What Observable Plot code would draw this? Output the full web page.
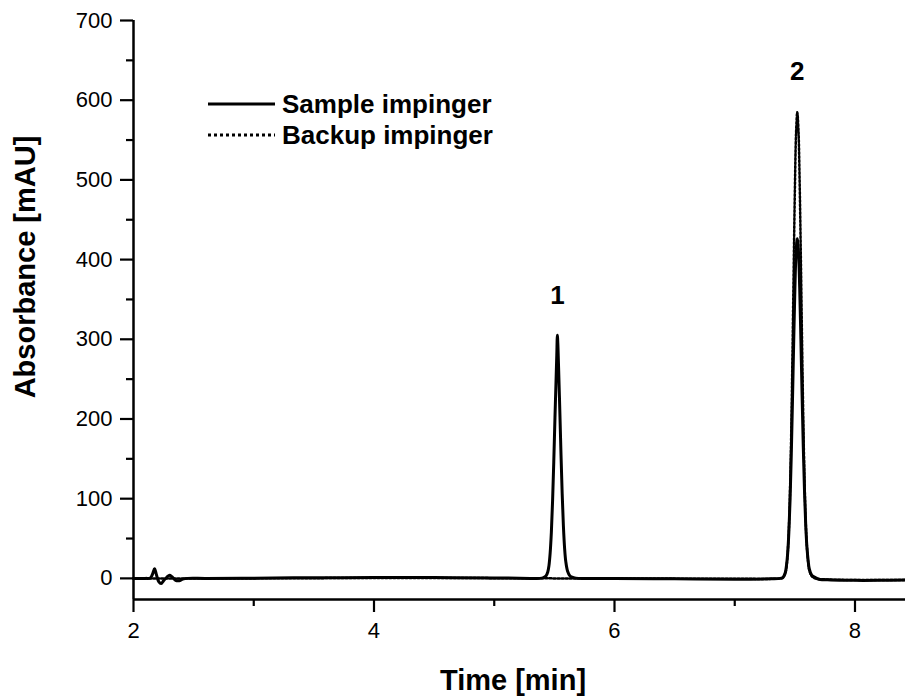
<!DOCTYPE html>
<html><head><meta charset="utf-8">
<script src="https://cdn.jsdelivr.net/npm/d3@7"></script>
<script src="https://cdn.jsdelivr.net/npm/@observablehq/plot@0.6"></script>
<style>
body{margin:0;background:#fff;}
#wrap{position:relative;width:905px;height:697px;font-family:"Liberation Sans",Arial,sans-serif;color:#000;overflow:hidden;}
.title{position:absolute;font-weight:bold;font-size:29px;white-space:nowrap;line-height:1;}
#legend{position:absolute;left:0;top:0;}
</style></head><body><div id="wrap"></div>
<script>
// ---- data ----
const seriesNames = ["Sample impinger", "Backup impinger"];

const sampleTime = [2.00,2.10,2.14,2.16,2.175,2.19,2.21,2.23,2.25,2.28,2.30,2.32,2.35,2.38,2.41,2.45,2.60,3.00,3.50,4.00,4.50,5.00,5.30,5.38,
  5.41,5.43,5.445,5.455,5.465,5.475,5.485,5.495,5.505,5.515,5.52,5.525,5.53,5.535,5.545,5.555,5.565,5.575,5.585,5.595,5.61,5.63,5.66,5.70,
  6.00,6.50,7.00,7.30,7.38,
  7.40,7.42,7.43,7.44,7.45,7.46,7.47,7.48,7.49,7.50,7.51,7.52,7.53,7.54,7.55,7.56,7.57,7.58,7.59,7.60,7.61,7.62,7.64,7.67,7.70,
  7.80,8.00,8.20,8.42];
const sampleAbs = [0,0,0.5,6,12,5,-4,-6.5,-3,2,4,2,-2.5,-3,-1,0,0,0.3,0.8,1,1,0.6,0,0,
  1,3,8,16,32,58,97,146,202,254,280,305,290,265,212,156,106,66,38,21,9,3,1,0,
  0,-0.5,-1,-0.5,0,
  1,7,16,31,58,98,154,222,295,362,409,426,410,365,300,230,165,110,68,40,23,12,4,1,-1,
  -2,-2.5,-2.5,-2];

const backupTime = [2.00,2.45,3.00,4.00,5.00,5.50,6.00,7.00,7.38,
  7.40,7.42,7.43,7.44,7.45,7.46,7.47,7.48,7.49,7.50,7.51,7.52,7.53,7.54,7.55,7.56,7.57,7.58,7.59,7.60,7.61,7.62,7.64,7.67,
  7.80,8.00,8.42];
const backupAbs = [0,0,0,0.5,0.3,0,0,-0.5,0,
  1,6,14,31,61,112,185,281,387,487,559,585,562,495,400,295,200,125,72,40,21,10,3,0,
  -1.5,-2,-2];

const xTicks = [2, 4, 6, 8];
const xMinorTicks = [3, 5, 7];
const yTicks = [0, 100, 200, 300, 400, 500, 600, 700];
const yMinorTicks = [50, 150, 250, 350, 450, 550, 650];

const peakLabels = ["1", "2"];
const peakTime = [5.525, 7.52];
const peakTop = [305, 585];

const xLabel = "Time [min]";
const yLabel = "Absorbance [mAU]";

// ---- tables built from the arrays ----
const sample = sampleTime.map((t, i) => ({t, a: sampleAbs[i]}));
const backup = backupTime.map((t, i) => ({t, a: backupAbs[i]}));
const peaks = peakLabels.map((l, i) => ({l, t: peakTime[i], a: peakTop[i]}));

const plot = Plot.plot({
  width: 905, height: 697,
  marginLeft: 133, marginRight: 0, marginTop: 20, marginBottom: 98,
  style: {fontFamily: '"Liberation Sans", Arial, sans-serif', fontSize: "22px", color: "#000", background: "#fff", overflow: "visible"},
  x: {domain: [2, 8.42]},
  y: {domain: [-26.5, 700]},
  marks: [
    Plot.axisX({ticks: xTicks, tickFormat: d => String(d), tickSize: 13, tickPadding: 10, strokeWidth: 2.2, label: null, fontSize: 22}),
    Plot.axisX({ticks: xMinorTicks, tickSize: 7, text: null, strokeWidth: 2.2, label: null}),
    Plot.axisY({ticks: yTicks, tickFormat: d => String(d), tickSize: 13, tickPadding: 8, strokeWidth: 2.2, label: null, fontSize: 22}),
    Plot.axisY({ticks: yMinorTicks, tickSize: 7, text: null, strokeWidth: 2.2, label: null}),
    Plot.ruleX([2], {y1: -26.5, y2: 700, strokeWidth: 2.5}),
    Plot.ruleY([-26.5], {x1: 2, x2: 8.42, strokeWidth: 2.5}),
    Plot.line(backup, {x: "t", y: "a", stroke: "#000", strokeWidth: 2.5, strokeDasharray: "2,2", curve: "catmull-rom"}),
    Plot.line(sample, {x: "t", y: "a", stroke: "#000", strokeWidth: 3, curve: "catmull-rom"}),
    Plot.text(peaks, {x: "t", y: "a", text: "l", dy: -40, fontSize: 26, fontWeight: "bold", fill: "#000"})
  ]
});

const wrap = document.getElementById("wrap");
wrap.appendChild(plot);

// axis titles
const xt = document.createElement("div");
xt.className = "title"; xt.textContent = xLabel;
xt.style.left = "513px"; xt.style.top = "680px"; xt.style.transform = "translate(-50%,-50%)";
wrap.appendChild(xt);
const yt = document.createElement("div");
yt.className = "title"; yt.textContent = yLabel;
yt.style.left = "25px"; yt.style.top = "267px"; yt.style.transform = "translate(-50%,-50%) rotate(-90deg)";
wrap.appendChild(yt);

// legend
const ns = "http://www.w3.org/2000/svg";
const lg = document.createElementNS(ns, "svg");
lg.setAttribute("id", "legend"); lg.setAttribute("width", 905); lg.setAttribute("height", 200);
const dashes = [null, "3,3"];
const widths = [3, 3];
seriesNames.forEach((name, i) => {
  const y = 104 + i * 31;
  const ln = document.createElementNS(ns, "line");
  ln.setAttribute("x1", 208); ln.setAttribute("x2", 275); ln.setAttribute("y1", y); ln.setAttribute("y2", y);
  ln.setAttribute("stroke", "#000"); ln.setAttribute("stroke-width", widths[i]);
  if (dashes[i]) ln.setAttribute("stroke-dasharray", dashes[i]);
  lg.appendChild(ln);
  const tx = document.createElementNS(ns, "text");
  tx.setAttribute("x", 282); tx.setAttribute("y", y); tx.setAttribute("dy", "0.35em");
  tx.setAttribute("font-family", '"Liberation Sans", Arial, sans-serif');
  tx.setAttribute("font-size", 26); tx.setAttribute("font-weight", "bold");
  tx.textContent = name;
  lg.appendChild(tx);
});
wrap.appendChild(lg);
</script>
</body></html>
